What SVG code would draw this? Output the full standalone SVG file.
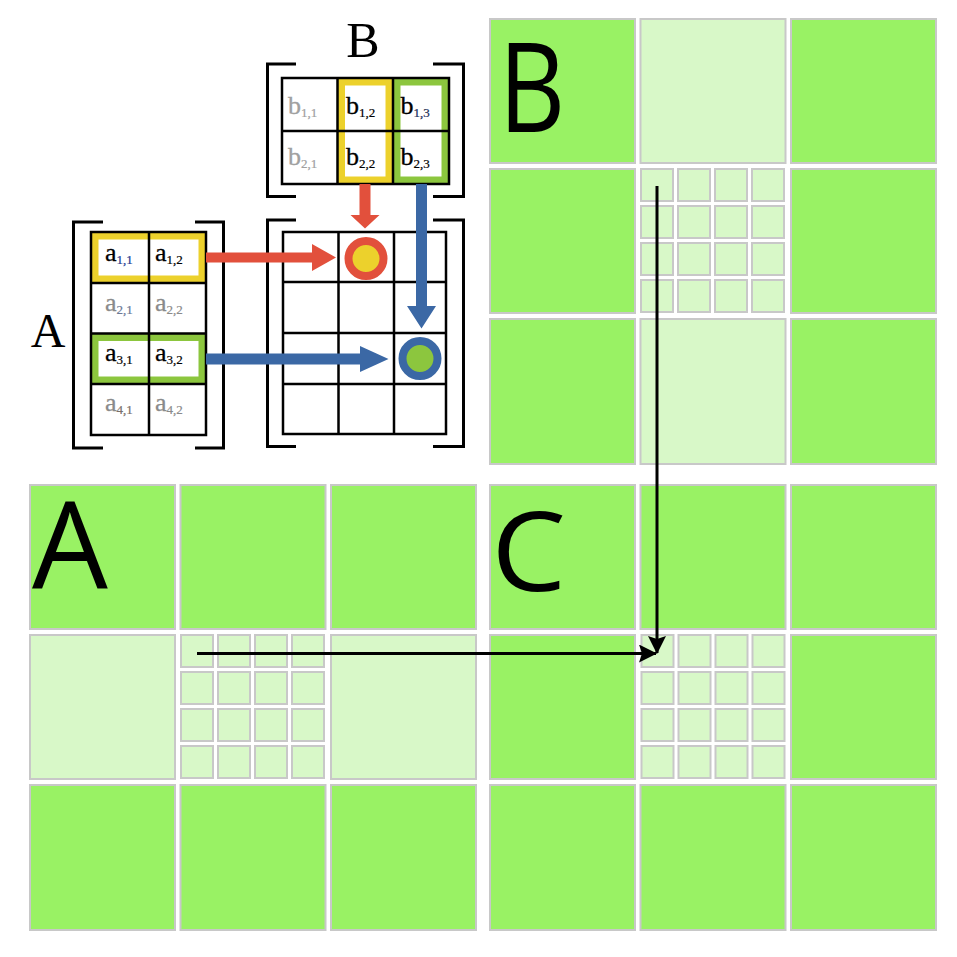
<svg xmlns="http://www.w3.org/2000/svg" width="957" height="957" viewBox="0 0 957 957">
<style>
.t{stroke:#c8c8c8;stroke-width:2}
.g{fill:#99f264}
.l{fill:#d8f8c8}
.big{font-family:"Open Sans","Liberation Sans",sans-serif;fill:#000}
.m{font-family:"Liberation Serif",serif;font-size:26px;fill:#000;stroke:#000;stroke-width:0.3}
.gr{fill:#8a8a8a;stroke:#8a8a8a}
.lg{fill:#a0a0a0;stroke:#a0a0a0}
.s{font-size:13px;stroke-width:0.2}
.grid{stroke:#000;stroke-width:2.5;fill:none}
.br{stroke:#000;stroke-width:3;fill:none}
.conn{stroke:#000;stroke-width:3;fill:none}
</style>
<defs>
<marker id="ah" markerUnits="userSpaceOnUse" markerWidth="18" markerHeight="18" viewBox="0 0 18 18" refX="17" refY="9" orient="auto">
<path d="M0,0 L18,9 L0,18 L3,9 z" fill="#000"/>
</marker>
<g id="sub">
<rect class="t l" x="1" y="1" width="32" height="32"/><rect class="t l" x="38" y="1" width="32" height="32"/><rect class="t l" x="75" y="1" width="32" height="32"/><rect class="t l" x="112" y="1" width="32" height="32"/>
<rect class="t l" x="1" y="38" width="32" height="32"/><rect class="t l" x="38" y="38" width="32" height="32"/><rect class="t l" x="75" y="38" width="32" height="32"/><rect class="t l" x="112" y="38" width="32" height="32"/>
<rect class="t l" x="1" y="75" width="32" height="32"/><rect class="t l" x="38" y="75" width="32" height="32"/><rect class="t l" x="75" y="75" width="32" height="32"/><rect class="t l" x="112" y="75" width="32" height="32"/>
<rect class="t l" x="1" y="112" width="32" height="32"/><rect class="t l" x="38" y="112" width="32" height="32"/><rect class="t l" x="75" y="112" width="32" height="32"/><rect class="t l" x="112" y="112" width="32" height="32"/>
</g>
</defs>
<rect width="957" height="957" fill="#fff"/>

<g id="gridB">
<rect class="t g" x="490" y="19" width="145" height="144"/>
<rect class="t l" x="640.5" y="19" width="145" height="144"/>
<rect class="t g" x="791" y="19" width="145" height="144"/>
<rect class="t g" x="490" y="169" width="145" height="144"/>
<use href="#sub" x="640" y="168"/>
<rect class="t g" x="791" y="169" width="145" height="144"/>
<rect class="t g" x="490" y="319" width="145" height="145"/>
<rect class="t l" x="640.5" y="319" width="145" height="145"/>
<rect class="t g" x="791" y="319" width="145" height="145"/>
<text class="big" x="497" y="132" font-size="124" transform="translate(508,0) scale(0.83,1) translate(-508,0)">B</text>
</g>

<g id="gridA">
<rect class="t g" x="30" y="485" width="145" height="144"/>
<rect class="t g" x="180.5" y="485" width="145" height="144"/>
<rect class="t g" x="331" y="485" width="145" height="144"/>
<rect class="t l" x="30" y="635" width="145" height="144"/>
<use href="#sub" x="180" y="634"/>
<rect class="t l" x="331" y="635" width="145" height="144"/>
<rect class="t g" x="30" y="785" width="145" height="145"/>
<rect class="t g" x="180.5" y="785" width="145" height="145"/>
<rect class="t g" x="331" y="785" width="145" height="145"/>
<text class="big" x="32" y="588" font-size="120">A</text>
</g>

<g id="gridC">
<rect class="t g" x="490" y="485" width="145" height="144"/>
<rect class="t g" x="640.5" y="485" width="145" height="144"/>
<rect class="t g" x="791" y="485" width="145" height="144"/>
<rect class="t g" x="490" y="635" width="145" height="144"/>
<use href="#sub" x="640.5" y="634"/>
<rect class="t g" x="791" y="635" width="145" height="144"/>
<rect class="t g" x="490" y="785" width="145" height="145"/>
<rect class="t g" x="640.5" y="785" width="145" height="145"/>
<rect class="t g" x="791" y="785" width="145" height="145"/>
<text class="big" x="492" y="591" font-size="110" transform="translate(500,0) scale(1.08,1) translate(-500,0)">C</text>
</g>

<g id="connectors">
<line class="conn" x1="657" y1="186" x2="657" y2="653" marker-end="url(#ah)"/>
<line class="conn" x1="197" y1="653.5" x2="656" y2="653.5" marker-end="url(#ah)"/>
</g>

<g id="matB">
<text x="363" y="57" text-anchor="middle" font-family="Liberation Serif,serif" font-size="50">B</text>
<rect x="282" y="78" width="167" height="106" fill="#fff"/>
<rect x="341.25" y="81.75" width="48" height="98.5" fill="none" stroke="#ecd12c" stroke-width="7.5"/>
<rect x="396.75" y="81.75" width="48.5" height="98.5" fill="none" stroke="#8cc63e" stroke-width="7.5"/>
<path class="grid" d="M282,78H449V184H282Z M337.5,78V184 M393,78V184 M282,131H449"/>
<path class="br" d="M296,64H267.5V196.5H296 M433,64H463.5V196.5H433"/>
<text class="m lg" x="288" y="114">b<tspan class="s" dy="3">1,1</tspan></text>
<text class="m lg" x="288" y="165">b<tspan class="s" dy="3">2,1</tspan></text>
<text class="m" x="346" y="114">b<tspan class="s" dy="3">1,2</tspan></text>
<text class="m" x="346" y="165">b<tspan class="s" dy="3">2,2</tspan></text>
<text class="m" x="400.5" y="114">b<tspan class="s" dy="3" fill="#1e3c80">1,3</tspan></text>
<text class="m" x="400.5" y="165">b<tspan class="s" dy="3">2,3</tspan></text>
</g>

<g id="matA">
<text x="48" y="347" text-anchor="middle" font-family="Liberation Serif,serif" font-size="48">A</text>
<rect x="91" y="232" width="115" height="203" fill="#fff"/>
<rect x="94.75" y="235.75" width="107.5" height="43.5" fill="none" stroke="#ecd12c" stroke-width="7.5"/>
<rect x="94.75" y="337.25" width="107.5" height="43" fill="none" stroke="#8cc63e" stroke-width="7.5"/>
<path class="grid" d="M91,232H206V435H91Z M149,232V435 M91,283H206 M91,333.5H206 M91,384H206"/>
<path class="br" d="M103,222H73.5V448H103 M195,222H223.5V448H195"/>
<text class="m" x="105" y="261">a<tspan class="s" dy="3" fill="#1e3c90" stroke="#1e3c90">1,1</tspan></text>
<text class="m" x="155" y="261">a<tspan class="s" dy="3">1,2</tspan></text>
<text class="m gr" x="105" y="311">a<tspan class="s" dy="3" fill="#6a7896" stroke="#6a7896">2,1</tspan></text>
<text class="m gr" x="155" y="311">a<tspan class="s" dy="3">2,2</tspan></text>
<text class="m" x="105" y="361">a<tspan class="s" dy="3">3,1</tspan></text>
<text class="m" x="155" y="361">a<tspan class="s" dy="3">3,2</tspan></text>
<text class="m gr" x="105" y="411">a<tspan class="s" dy="3" fill="#7a6f6a" stroke="#7a6f6a">4,1</tspan></text>
<text class="m gr" x="155" y="411">a<tspan class="s" dy="3">4,2</tspan></text>
</g>

<g id="matC">
<rect x="283" y="232" width="163" height="202" fill="#fff"/>
<path class="grid" d="M283,232H446V434H283Z M338.5,232V434 M394,232V434 M283,282H446 M283,333H446 M283,384H446"/>
<path class="br" d="M296,220H267.5V446.5H296 M433,220H463.5V446.5H433"/>
<circle cx="366" cy="258.5" r="17.5" fill="#ecd12c" stroke="#e2503c" stroke-width="8"/>
<circle cx="420" cy="358.5" r="17.5" fill="#8cc63e" stroke="#3b68a5" stroke-width="8"/>
</g>

<g id="matArrows">
<polygon fill="#e2503c" points="206,252.5 312,252.5 312,244 336,257.5 312,271 312,262.5 206,262.5"/>
<polygon fill="#e2503c" points="359.5,184 370.5,184 370.5,215 379.5,215 365,228.5 350.5,215 359.5,215"/>
<polygon fill="#3b68a5" points="416,184 427,184 427,306 436,306 421.5,328.5 407,306 416,306"/>
<polygon fill="#3b68a5" points="206,353.5 360,353.5 360,346 388.5,359 360,372 360,364.5 206,364.5"/>
</g>
</svg>
